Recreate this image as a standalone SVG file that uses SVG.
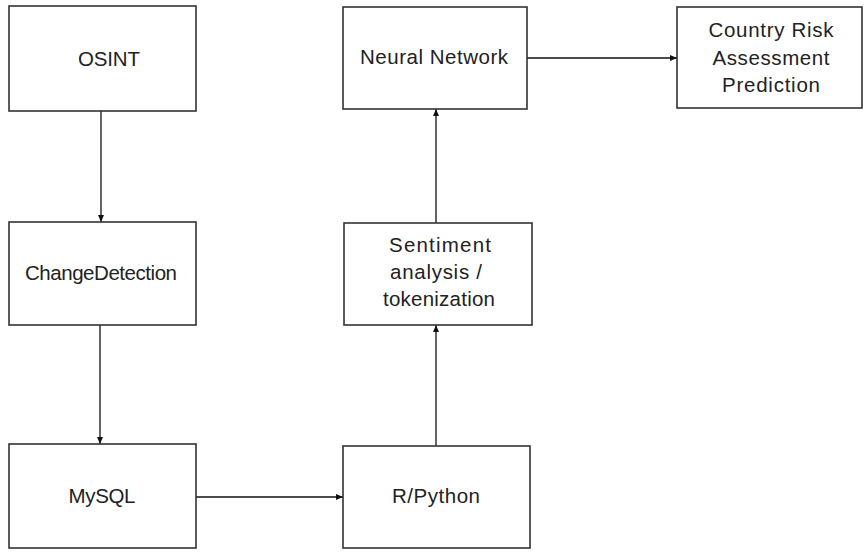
<svg xmlns="http://www.w3.org/2000/svg" width="864" height="552" viewBox="0 0 864 552">
<style>
.box{fill:#fff;stroke:#333;stroke-width:1.6}
.lbl{font-family:"Liberation Sans",Arial,sans-serif;font-size:20.5px;fill:#222;text-anchor:middle}
.edge{stroke:#111;stroke-width:1.3;fill:none;marker-end:url(#ah)}
</style>
<defs>
<marker id="ah" markerWidth="8" markerHeight="8" refX="7" refY="4" orient="auto" markerUnits="userSpaceOnUse">
<path d="M0,1 L7,4 L0,7 z" fill="#111"/>
</marker>
</defs>
<rect width="864" height="552" fill="#fff"/>
<g id="connectors">
<line class="edge" x1="101" y1="111" x2="101" y2="222"/>
<line class="edge" x1="100" y1="325" x2="100" y2="444"/>
<line class="edge" x1="196" y1="497" x2="343" y2="497"/>
<line class="edge" x1="436" y1="446" x2="436" y2="325"/>
<line class="edge" x1="436" y1="223" x2="436" y2="109"/>
<line class="edge" x1="527" y1="58" x2="677" y2="58"/>
</g>
<g id="osint">
<rect class="box" x="9" y="6" width="187" height="105"/>
<text class="lbl" x="109" y="66" font-size="22" textLength="62">OSINT</text>
</g>
<g id="changedetection">
<rect class="box" x="9" y="222" width="187" height="103"/>
<text class="lbl" x="101" y="280" textLength="152">ChangeDetection</text>
</g>
<g id="mysql">
<rect class="box" x="9" y="444" width="187" height="104"/>
<text class="lbl" x="102" y="503" textLength="67">MySQL</text>
</g>
<g id="rpython">
<rect class="box" x="343" y="446" width="187" height="102"/>
<text class="lbl" x="436" y="503" textLength="88">R/Python</text>
</g>
<g id="sentiment">
<rect class="box" x="344" y="223" width="188" height="102"/>
<text class="lbl" x="440" y="252" textLength="102">Sentiment</text>
<text class="lbl" x="436" y="279" textLength="92">analysis /</text>
<text class="lbl" x="439" y="306" textLength="112">tokenization</text>
</g>
<g id="neuralnetwork">
<rect class="box" x="343" y="7" width="184" height="102"/>
<text class="lbl" x="434" y="64" textLength="148">Neural Network</text>
</g>
<g id="countryrisk">
<rect class="box" x="677" y="7" width="185" height="101"/>
<text class="lbl" x="771" y="37" font-size="21" textLength="125">Country Risk</text>
<text class="lbl" x="771" y="65" font-size="21" textLength="117">Assessment</text>
<text class="lbl" x="771" y="92" font-size="21" textLength="98">Prediction</text>
</g>
</svg>
